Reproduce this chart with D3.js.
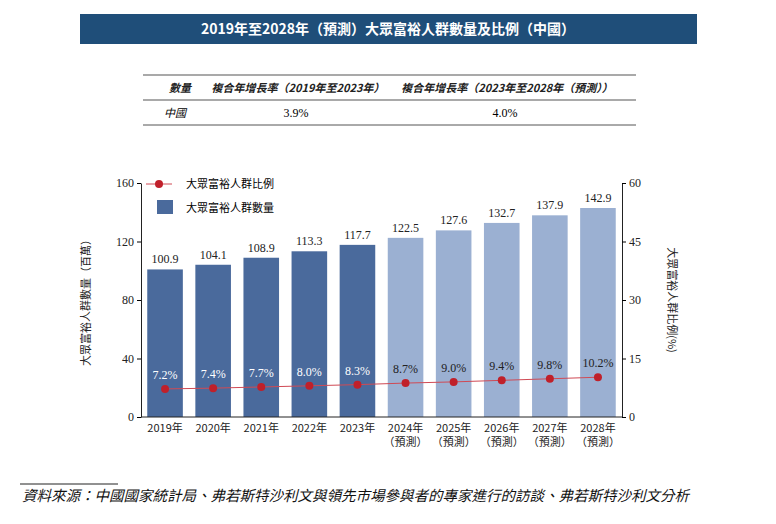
<!DOCTYPE html>
<html><head><meta charset="utf-8">
<script src="https://cdn.jsdelivr.net/npm/d3@7"></script>
<style>body{margin:0;background:#fff}</style>
</head><body><div id="chart"></div>
<script>
const years = ["2019年","2020年","2021年","2022年","2023年","2024年","2025年","2026年","2027年","2028年"];
const forecast = [false,false,false,false,false,true,true,true,true,true];
const counts = [100.9,104.1,108.9,113.3,117.7,122.5,127.6,132.7,137.9,142.9];
const ratios = [7.2,7.4,7.7,8.0,8.3,8.7,9.0,9.4,9.8,10.2];
const leftTicks = [0,40,80,120,160];
const rightTicks = [0,15,30,45,60];

const W = 776, H = 524;
const CJK = "'Noto Sans CJK TC','Noto Sans CJK SC',sans-serif";
const SERIF = "'Liberation Serif','DejaVu Serif',serif";
const svg = d3.select("#chart").append("svg").attr("width", W).attr("height", H);

// title banner
svg.append("rect").attr("x", 80).attr("y", 14).attr("width", 617).attr("height", 30).attr("fill", "#1f4e79");
svg.append("text").attr("x", 388).attr("y", 34).attr("text-anchor", "middle")
  .attr("fill", "#fff").style("font-family", CJK).style("font-size", "14px").style("font-weight", "700")
  .text("2019年至2028年（預測）大眾富裕人群數量及比例（中國）");

// growth table
[75, 100, 125].forEach((y, i) => svg.append("line").attr("x1", 143).attr("x2", 636).attr("y1", y).attr("y2", y)
  .attr("stroke", "#555").attr("stroke-width", i === 2 ? 1 : 1.2));
const th = svg.append("g").style("font-family", CJK).style("font-size", "11px").style("font-style", "italic").style("font-weight", "700").attr("fill", "#222");
th.append("text").attr("x", 180).attr("y", 92).attr("text-anchor", "middle").text("數量");
th.append("text").attr("x", 298).attr("y", 92).attr("text-anchor", "middle").text("複合年增長率（2019年至2023年）");
th.append("text").attr("x", 507).attr("y", 92).attr("text-anchor", "middle").text("複合年增長率（2023年至2028年（預測））");
svg.append("text").attr("x", 175).attr("y", 117).attr("text-anchor", "middle").style("font-family", CJK).style("font-size", "11px").style("font-style", "italic").text("中國");
svg.append("text").attr("x", 296).attr("y", 117).attr("text-anchor", "middle").style("font-family", SERIF).style("font-size", "12px").text("3.9%");
svg.append("text").attr("x", 505).attr("y", 117).attr("text-anchor", "middle").style("font-family", SERIF).style("font-size", "12px").text("4.0%");

// chart
const x0 = 141, x1 = 622, yTop = 183, yBot = 417;
const x = d3.scaleBand().domain(years).range([x0, x1]).paddingInner(0.26).paddingOuter(0.13);
const y = d3.scaleLinear().domain([0, 160]).range([yBot, yTop]);
const y2 = d3.scaleLinear().domain([0, 60]).range([yBot, yTop]);

svg.selectAll("rect.bar").data(years).join("rect").attr("class", "bar")
  .attr("x", d => x(d)).attr("width", x.bandwidth())
  .attr("y", (d, i) => y(counts[i])).attr("height", (d, i) => yBot - y(counts[i]))
  .attr("fill", (d, i) => forecast[i] ? "#9bb0d2" : "#4a6a9c");
svg.selectAll("text.val").data(years).join("text").attr("class", "val")
  .attr("x", d => x(d) + x.bandwidth() / 2).attr("y", (d, i) => y(counts[i]) - 6)
  .attr("text-anchor", "middle").style("font-family", SERIF).style("font-size", "12px").attr("fill", "#222")
  .text((d, i) => counts[i].toFixed(1));

const ax = g => g.call(a => a.select(".domain").attr("stroke", "#222"))
  .call(a => a.selectAll("text").style("font-family", SERIF).style("font-size", "12px").attr("fill", "#222"));
svg.append("g").attr("transform", `translate(${x0},0)`).call(d3.axisLeft(y).tickValues(leftTicks).tickSize(4).tickSizeOuter(0)).call(ax);
svg.append("g").attr("transform", `translate(${x1},0)`).call(d3.axisRight(y2).tickValues(rightTicks).tickSize(4).tickSizeOuter(0)).call(ax);
const xa = svg.append("g").attr("transform", `translate(0,${yBot})`).call(d3.axisBottom(x).tickSize(0).tickSizeOuter(0)).call(ax);
xa.select(".domain").attr("d", `M${x0},0H${x1}`);
xa.selectAll(".tick text").attr("dy", "1.1em").style("font-family", CJK).style("font-size", "11px");
xa.selectAll(".tick").each(function (d, i) {
  if (forecast[i]) d3.select(this).append("text").attr("y", 29).attr("fill", "#222").attr("text-anchor", "middle")
    .style("font-family", CJK).style("font-size", "11px").text("（預測）");
});

// ratio line
const line = d3.line().x(d => x(d) + x.bandwidth() / 2).y((d, i) => y2(ratios[i]));
svg.append("path").datum(years).attr("d", line).attr("fill", "none").attr("stroke", "#d04a55").attr("stroke-width", 1);
svg.selectAll("circle.pt").data(years).join("circle").attr("class", "pt")
  .attr("cx", d => x(d) + x.bandwidth() / 2).attr("cy", (d, i) => y2(ratios[i])).attr("r", 4).attr("fill", "#c0202a");
svg.selectAll("text.pct").data(years).join("text").attr("class", "pct")
  .attr("x", d => x(d) + x.bandwidth() / 2).attr("y", (d, i) => y2(ratios[i]) - 10)
  .attr("text-anchor", "middle").style("font-family", SERIF).style("font-size", "12px")
  .attr("fill", (d, i) => forecast[i] ? "#222" : "#fff").text((d, i) => ratios[i].toFixed(1) + "%");

// axis titles
svg.append("text").attr("transform", `translate(90,${(yTop + yBot) / 2}) rotate(-90)`).attr("text-anchor", "middle")
  .style("font-family", CJK).style("font-size", "11px").attr("fill", "#222").text("大眾富裕人群數量（百萬）");
svg.append("text").attr("transform", `translate(668,${(yTop + yBot) / 2}) rotate(90)`).attr("text-anchor", "middle")
  .style("font-family", CJK).style("font-size", "11px").attr("fill", "#222").text("大眾富裕人群比例(%)");

// legend
svg.append("line").attr("x1", 146).attr("x2", 172).attr("y1", 184).attr("y2", 184).attr("stroke", "#d04a55");
svg.append("circle").attr("cx", 159).attr("cy", 184).attr("r", 4).attr("fill", "#c0202a");
svg.append("text").attr("x", 186).attr("y", 188).style("font-family", CJK).style("font-size", "11px").text("大眾富裕人群比例");
svg.append("rect").attr("x", 157).attr("y", 200).attr("width", 16).attr("height", 14).attr("fill", "#4a6a9c");
svg.append("text").attr("x", 186).attr("y", 212).style("font-family", CJK).style("font-size", "11px").text("大眾富裕人群數量");

// source
svg.append("line").attr("x1", 20).attr("x2", 118).attr("y1", 484).attr("y2", 484).attr("stroke", "#222");
svg.append("text").attr("x", 22).attr("y", 501).style("font-family", CJK).style("font-size", "14.5px").style("font-style", "italic").attr("fill", "#111")
  .text("資料來源：中國國家統計局、弗若斯特沙利文與領先市場參與者的專家進行的訪談、弗若斯特沙利文分析");
</script></body></html>
